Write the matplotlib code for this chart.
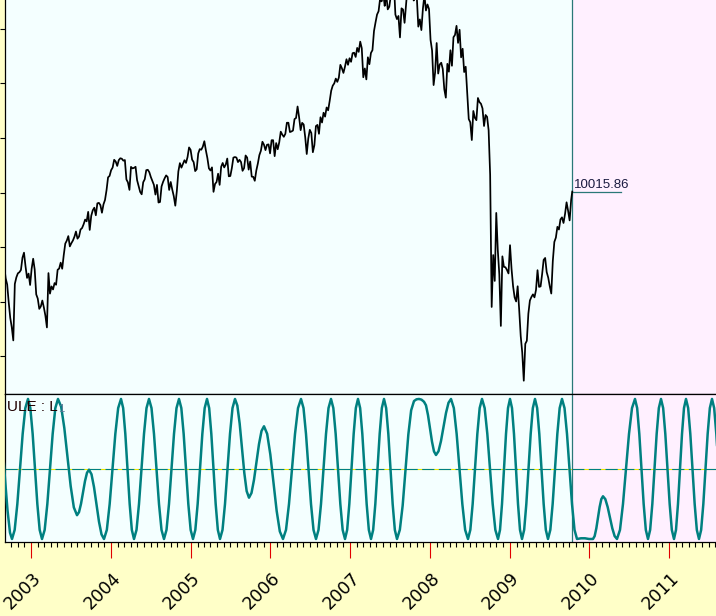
import numpy as np
import pandas as pd
import matplotlib
matplotlib.use('Agg')
import matplotlib.pyplot as plt
import matplotlib.dates as mdates
from matplotlib.transforms import blended_transform_factory, offset_copy

# weekly closes (Friday of each week)
dow_2002 = [8663, 8427, 8312, 7986, 7701, 7528, 7286, 8322, 8443, 8517, 8538, 8579,
            8804, 8896, 8645, 8433, 8512, 8303]
dow_2003 = [8601, 8785, 8587, 8131, 8054, 7865, 7909, 8018, 7891, 7740, 7524, 8522,
            8145, 8277, 8221, 8338, 8307, 8582, 8604, 8713, 8601, 8850, 9062, 9117,
            9200, 9011, 9070, 9119, 9188, 9284, 9153, 9191, 9321, 9348, 9416, 9503,
            9471, 9645, 9313, 9573, 9674, 9721, 9582, 9801, 9810, 9768, 9629, 9782,
            9863, 10042, 10278, 10305]
dow_2004 = [10409, 10458, 10600, 10568, 10488, 10593, 10628, 10620, 10584, 10596, 10240, 10186,
            10048, 10470, 10443, 10452, 10472, 10226, 10117, 10012, 9967, 10188, 10243, 10410,
            10417, 10372, 10283, 10213, 10140, 9962, 10140, 9816, 9826, 10111, 10195, 10260,
            10314, 10284, 10047, 10193, 10055, 9933, 9758, 10027, 10387, 10539, 10456, 10522,
            10592, 10543, 10649, 10827, 10783]
dow_2005 = [10603, 10558, 10393, 10427, 10716, 10796, 10785, 10841, 10941, 10774, 10630, 10442,
            10404, 10461, 10012, 10157, 10193, 10345, 10140, 10471, 10542, 10460, 10512, 10623,
            10297, 10303, 10449, 10640, 10651, 10641, 10558, 10600, 10559, 10398, 10447, 10679,
            10641, 10420, 10569, 10292, 10287, 10215, 10403, 10531, 10686, 10766, 10931, 10878,
            10778, 10876, 10883, 10718]
dow_2006 = [10959, 10960, 10667, 10907, 10794, 10920, 11116, 11062, 11022, 11077, 11280, 11280,
            11109, 11120, 11137, 11347, 11367, 11578, 11380, 11144, 11278, 11247, 11015, 10706,
            10990, 11150, 11091, 10739, 10869, 11219, 11240, 11077, 11381, 11284, 11464, 11392,
            11560, 11508, 11679, 11867, 11960, 12002, 12090, 12030, 12108, 12342, 12280, 12194,
            12307, 12445, 12343, 12463]
dow_2007 = [12398, 12556, 12565, 12487, 12653, 12580, 12768, 12647, 12114, 12276, 12075, 12481,
            12354, 12560, 12612, 12962, 13120, 13265, 13326, 13556, 13507, 13668, 13424, 13639,
            13360, 13408, 13611, 13907, 13851, 13265, 13182, 13239, 12845, 13379, 13358, 13113,
            13442, 13820, 13896, 14066, 14093, 13522, 13806, 13595, 13043, 13176, 12980, 13372,
            13625, 13339, 13450, 13366]
dow_2008 = [12800, 12606, 11971, 12207, 12743, 12182, 12348, 12381, 12266, 11894, 11740, 12361,
            12216, 12610, 12325, 12849, 12891, 13058, 12745, 12986, 12480, 12638, 12210, 12308,
            11843, 11347, 11288, 10962, 11496, 11370, 11327, 11734, 11659, 11628, 11543, 11220,
            11422, 11388, 11143, 10325, 7900, 8852, 8378, 9625, 8943, 8497, 7552, 8829,
            8635, 8629, 8579, 8515]
dow_2009 = [9034, 8599, 8281, 8077, 8001, 8280, 7850, 7366, 7063, 6547, 7224, 7279,
            7776, 8018, 8083, 8131, 8076, 8212, 8575, 8268, 8277, 8500, 8764, 8799,
            8539, 8438, 8280, 8146, 8743, 9093, 9172, 9370, 9321, 9505, 9544, 9441,
            9606, 9820, 9665, 9488, 9865]
week_starts = ['2002-08-30', '2003-01-03', '2004-01-02', '2005-01-07',
               '2006-01-06', '2007-01-05', '2008-01-04', '2009-01-02']
last_date = '2009-10-14'
last_close = 10015.86

# ULE : L1 oscillator, read at its turning points and between them
osc_start = '2002-09-03'
osc_days = [
    -18.3, 0.0, 11.5, 22.9, 32.1,
    44.3, 56.5, 68.7, 80.9, 93.1, 105.3,
    116.0, 126.7, 137.4, 148.1, 158.8, 169.5,
    181.7, 193.9, 206.1, 218.3, 230.5, 242.7,
    257.2, 271.7, 286.3, 300.8, 315.3, 329.8,
    339.0, 348.1, 357.3, 366.4, 375.6, 384.7,
    396.2, 407.6, 419.1, 430.5, 442.0, 453.4,
    466.4, 479.4, 492.3, 505.3, 518.3, 531.3,
    541.2, 551.1, 561.1, 571.0, 580.9, 590.8,
    602.3, 613.7, 625.2, 636.6, 648.1, 659.5,
    671.0, 682.4, 693.9, 705.3, 716.8, 728.2,
    739.7, 751.1, 762.6, 774.0, 785.5, 796.9,
    807.6, 818.3, 829.0, 839.6, 850.3, 861.0,
    871.7, 882.4, 893.1, 903.8, 914.5, 925.2,
    935.1, 945.0, 955.0, 964.9, 974.8, 984.7,
    996.2, 1007.6, 1019.1, 1030.5, 1042.0, 1053.4,
    1064.1, 1074.8, 1085.5, 1096.1, 1106.8, 1117.5,
    1129.0, 1140.4, 1151.9, 1163.3, 1174.8, 1186.2,
    1200.7, 1215.2, 1229.7, 1244.2, 1258.7, 1273.2,
    1287.0, 1300.7, 1314.5, 1328.2, 1342.0, 1355.7,
    1367.2, 1378.6, 1390.1, 1401.5, 1413.0, 1424.4,
    1435.9, 1447.3, 1458.8, 1470.2, 1481.7, 1493.1,
    1503.8, 1514.5, 1525.2, 1535.8, 1546.5, 1557.2,
    1567.1, 1577.0, 1587.0, 1596.9, 1606.8, 1616.7,
    1626.6, 1636.6, 1646.5, 1656.4, 1666.4, 1676.3,
    1686.2, 1696.1, 1706.1, 1716.0, 1725.9, 1735.8,
    1745.7, 1755.7, 1765.6, 1775.5, 1785.5, 1795.4,
    1808.4, 1821.3, 1834.3, 1847.3, 1860.2, 1873.2,
    1884.7, 1896.1, 1907.6, 1919.0,
    1928.2, 1937.3, 1946.5, 1955.7, 1964.8, 1974.0,
    1985.5, 1996.9, 2008.4, 2019.8, 2031.3, 2042.7,
    2055.7, 2068.6, 2081.6, 2094.6, 2107.5, 2120.5,
    2131.2, 2141.9, 2152.6, 2163.3, 2174.0, 2184.7,
    2196.9, 2209.1, 2221.4, 2233.6, 2245.8, 2258.0,
    2267.2, 2276.3, 2285.5, 2294.6, 2303.8, 2312.9,
    2322.1, 2331.2, 2340.4, 2349.6, 2358.7, 2367.9,
    2377.8, 2387.7, 2397.7, 2407.6, 2417.5, 2427.4,
    2437.3, 2447.2, 2457.2, 2467.1, 2477.0, 2486.9,
    2497.6, 2508.3, 2519.0, 2529.7, 2540.4, 2551.1,
    2562.6, 2574.0, 2585.5, 2596.9, 2608.4, 2619.8,
    2638.1, 2656.4, 2674.7, 2693.0,
    2700.6, 2708.3, 2715.9, 2723.5, 2731.2, 2738.8,
    2749.5, 2760.2, 2770.9, 2781.5, 2792.2, 2802.9,
    2816.7, 2830.4, 2844.2, 2857.9, 2871.7, 2885.4,
    2895.3, 2905.2, 2915.2, 2925.1, 2935.0, 2944.9,
    2954.8, 2964.8, 2974.7, 2984.6, 2994.6, 3004.5,
    3014.4, 3024.3, 3034.3, 3044.2, 3054.1, 3064.0,
    3073.2, 3082.3, 3091.5, 3100.7, 3109.8, 3119.0,
    3128.9, 3138.8, 3148.8, 3158.7, 3168.6, 3178.5,
    3188.4, 3198.4, 3208.3, 3218.2, 3228.2, 3238.1,
    3248.0, 3257.9, 3267.8]
osc_vals = [
    0.67, -0.14, -0.59, -0.91, -1,
    -.87, -.5, 0, .5, .87, 1,
    .87, .5, 0, -.5, -.87, -1,
    -.87, -.5, 0, .5, .87, 1,
    .889, .585, .17, -.245, -.549, -.66,
    -.616, -.498, -.335, -.173, -.054, -.01,
    -.076, -.258, -.505, -.753, -.934, -1,
    -.87, -.5, 0, .5, .87, 1,
    .87, .5, 0, -.5, -.87, -1,
    -.87, -.5, 0, .5, .87, 1,
    .87, .5, 0, -.5, -.87, -1,
    -.87, -.5, 0, .5, .87, 1,
    .87, .5, 0, -.5, -.87, -1,
    -.87, -.5, 0, .5, .87, 1,
    .87, .5, 0, -.5, -.87, -1,
    -.87, -.5, 0, .5, .87, 1,
    .906, .648, .295, -.058, -.316, -.41,
    -.342, -.155, .1, .355, .542, .61,
    .502, .208, -.195, -.598, -.892, -1,
    -.87, -.5, 0, .5, .87, 1,
    .87, .5, 0, -.5, -.87, -1,
    -.87, -.5, 0, .5, .87, 1,
    .87, .5, 0, -.5, -.87, -1,
    -.87, -.5, 0, .5, .87, 1,
    .87, .5, 0, -.5, -.87, -1,
    -.87, -.5, 0, .5, .87, 1,
    .87, .5, 0, -.5, -.87, -1,
    -.868, -.523, -.015, .493, .838, .97,
    .995, 1.0, .99, .96,
    .909, .77, .58, .39, .251, .2,
    .254, .4, .6, .8, .946, 1,
    .87, .5, 0, -.5, -.87, -1,
    -.87, -.5, 0, .5, .87, 1,
    .87, .5, 0, -.5, -.87, -1,
    -.87, -.5, 0, .5, .87, 1,
    .87, .5, 0, -.5, -.87, -1,
    -.87, -.5, 0, .5, .87, 1,
    .87, .5, 0, -.5, -.87, -1,
    -.87, -.5, 0, .5, .87, 1,
    .87, .5, 0, -.5, -.87, -1,
    -.99, -.99, -1, -1,
    -.959, -.848, -.695, -.543, -.431, -.39,
    -.431, -.543, -.695, -.848, -.959, -1,
    -.87, -.5, 0, .5, .87, 1,
    .87, .5, 0, -.5, -.87, -1,
    -.87, -.5, 0, .5, .87, 1,
    .87, .5, 0, -.5, -.87, -1,
    -.87, -.5, 0, .5, .87, 1,
    .87, .5, 0, -.5, -.87, -1,
    -.87, -.5, 0, .5, .87, 1,
    .87, .5, 0]

year_labels = ['2003', '2004', '2005', '2006', '2007', '2008', '2009', '2010', '2011']
price_ticks = [7000, 8000, 9000, 10000, 11000, 12000, 13000]

# colours
margin_bg = '#FFFFC8'
plot_bg = '#F4FFFF'
future_bg = '#FFF0FF'
teal = '#008080'
marker_teal = '#2A7878'

# build the price series
dates = []
closes = []
for start, block in zip(week_starts, [dow_2002, dow_2003, dow_2004, dow_2005,
                                      dow_2006, dow_2007, dow_2008, dow_2009]):
    dates.extend(pd.date_range(start, periods=len(block), freq='7D'))
    closes.extend(block)
dates.append(pd.Timestamp(last_date))
closes.append(last_close)
price_x = mdates.date2num(pd.DatetimeIndex(dates).to_pydatetime())

osc_x = mdates.date2num((pd.Timestamp(osc_start) + pd.to_timedelta(np.array(osc_days), unit='D')).to_pydatetime())
d_last = mdates.date2num(pd.Timestamp(last_date).to_pydatetime())
x_left = mdates.date2num(pd.Timestamp('2002-09-03').to_pydatetime())
x_right = mdates.date2num(pd.Timestamp('2011-08-03 10:00').to_pydatetime())

W, H = 716, 616
fig = plt.figure(figsize=(W / 100, H / 100), dpi=100, facecolor=margin_bg)
ax1 = fig.add_axes([5 / W, 1 - 394 / H, 711 / W, 394 / H], facecolor=plot_bg)
ax2 = fig.add_axes([5 / W, 74 / H, 711 / W, 148 / H], facecolor=plot_bg, sharex=ax1)

# price panel
ax1.axvspan(d_last, x_right, color=future_bg, lw=0, zorder=0)
ax1.plot(price_x, closes, color='black', lw=1.25, zorder=3)
ax1.axvline(d_last, color=marker_teal, lw=0.9, zorder=2)
ax1.plot([d_last, d_last + 224], [last_close, last_close], color=marker_teal, lw=0.9, zorder=2)
ax1.annotate(f'{last_close:.2f}', xy=(d_last, last_close), xytext=(1.2, 2.4),
             textcoords='offset points', ha='left', va='baseline',
             fontsize=9.5, family='Liberation Sans', color='#1a1a40')
ax1.set_xlim(x_left, x_right)
ax1.set_ylim(6303, 13532)
ax1.set_yticks(price_ticks)
ax1.tick_params(axis='y', direction='out', length=3.6, width=0.8, labelleft=False)
ax1.tick_params(axis='x', which='both', length=0, labelbottom=False)
for side in ['top', 'right']:
    ax1.spines[side].set_visible(False)
for side in ['left', 'bottom']:
    ax1.spines[side].set_linewidth(0.9)

# oscillator panel
ax2.axvspan(d_last, x_right, color=future_bg, lw=0, zorder=0)
ax2.axhline(0, color='#F0E800', lw=0.8, zorder=1)
ax2.axhline(0, color=teal, lw=0.8, dashes=(11, 4), zorder=1)
ax2.axvline(d_last, color=marker_teal, lw=0.9, zorder=2)
ax2.plot(osc_x, osc_vals, color=teal, lw=1.8, zorder=3)
ax2.set_ylim(-1.043, 1.071)
ax2.set_yticks([])
ax2.spines['right'].set_visible(False)
for side in ['left', 'bottom', 'top']:
    ax2.spines[side].set_linewidth(0.9)
    ax2.spines[side].set_color('black')
ax2.spines['top'].set_zorder(6)

ax2.xaxis.set_major_locator(mdates.YearLocator())
ax2.xaxis.set_minor_locator(mdates.MonthLocator())
ax2.tick_params(axis='x', which='major', direction='out', length=11.5, width=0.8,
                color='#E00000', labelbottom=False)
ax2.tick_params(axis='x', which='minor', direction='out', length=3.6, width=0.8, color='black')

t1 = ax2.text(0, 1, 'ULE : L', transform=offset_copy(ax2.transAxes, fig=fig, x=2, y=-17, units='dots'),
              ha='left', va='baseline', fontsize=11, family='Liberation Sans', color='#200000', zorder=5)
ax2.annotate('1', xy=(1, 0), xycoords=t1, xytext=(0.5, 0), textcoords='offset points',
             ha='left', va='bottom', fontsize=8, family='Liberation Sans', color='#5A7898', zorder=5)

# rotated year labels under the red year ticks
lab_trans = offset_copy(blended_transform_factory(ax2.transData, ax2.transAxes),
                        fig=fig, x=10.5, y=-37, units='dots')
for lab in year_labels:
    xv = mdates.date2num(pd.Timestamp(f'{lab}-01-01').to_pydatetime())
    ax2.text(xv, 0, lab, transform=lab_trans, rotation=45, rotation_mode='anchor',
             ha='right', va='baseline', fontsize=12.5, color='black', clip_on=False)

fig.savefig('out.png', dpi=100, facecolor=fig.get_facecolor())
